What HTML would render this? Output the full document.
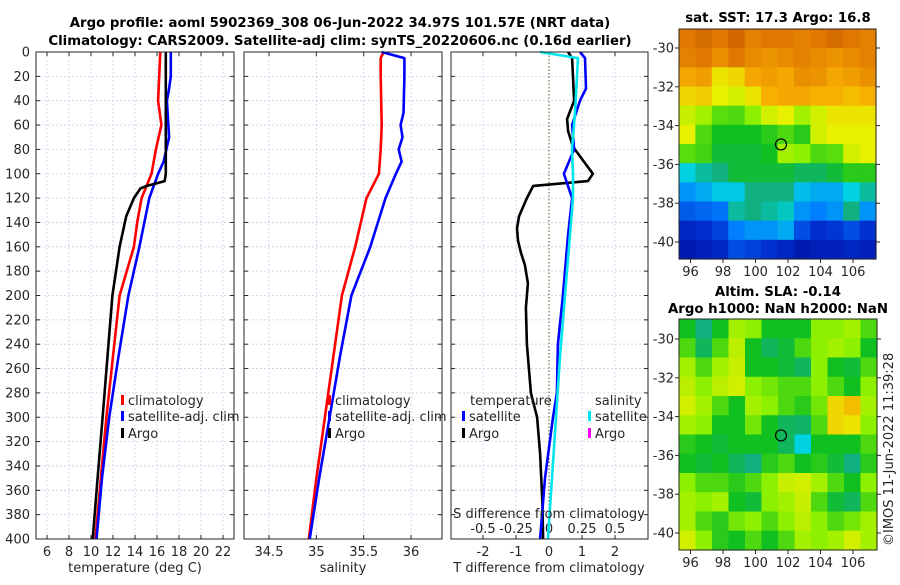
<!DOCTYPE html>
<html><head><meta charset="utf-8">
<style>
html,body{margin:0;padding:0;background:#fff;}
svg text{font-family:"DejaVu Sans","Liberation Sans",sans-serif;fill:#262626;}
.t{font-weight:bold;font-size:13.3px;fill:#000;}
.tk{font-size:13px;}
</style></head>
<body>
<svg id="fig" width="900" height="580" viewBox="0 0 900 580" xmlns="http://www.w3.org/2000/svg">
<text class="t" x="340" y="27" text-anchor="middle">Argo profile: aoml 5902369_308 06-Jun-2022 34.97S 101.57E (NRT data)</text>
<text class="t" x="340" y="45" text-anchor="middle">Climatology: CARS2009. Satellite-adj clim: synTS_20220606.nc (0.16d earlier)</text>
<g id="g"></g>
<text class="t" x="778" y="22" text-anchor="middle">sat. SST: 17.3 Argo: 16.8</text>
<text class="t" x="778" y="296" text-anchor="middle">Altim. SLA: -0.14</text>
<text class="t" x="778" y="313" text-anchor="middle">Argo h1000: NaN h2000: NaN</text>
<text class="tk" transform="translate(893,546) rotate(-90)">©IMOS 11-Jun-2022 11:39:28</text>
</svg>
<script>
// ---- data ----
const depthTicks=[0,20,40,60,80,100,120,140,160,180,200,220,240,260,280,300,320,340,360,380,400];
const tempTicks=[6,8,10,12,14,16,18,20,22];
const salTicks=[34.5,35,35.5,36];
const salTickLabels=["34.5","35","35.5","36"];
const diffTTicks=[-2,-1,0,1,2];
const diffSTicks=[-0.5,-0.25,0,0.25,0.5];
const diffSLabels=["-0.5","-0.25","0","0.25","0.5"];

const depClimT=[0,20,40,60,80,100,120,140,160,200,250,300,350,400];
const tempClim=[16.3,16.2,16.1,16.4,15.9,15.5,14.6,14.2,13.9,12.6,12.0,11.4,10.9,10.4];
const depSatT=[0,20,30,40,70,90,100,120,160,200,250,300,350,400];
const tempSat=[17.25,17.25,17.1,16.9,17.1,16.6,16.1,15.3,14.4,13.4,12.5,11.65,11.0,10.5];
const depArgoT=[0,100,106,110,112,120,135,160,200,250,300,350,400];
const tempArgo=[16.8,16.8,16.7,15.1,14.5,13.9,13.2,12.6,11.95,11.5,11.05,10.6,10.15];

const depClimS=[0,5,20,60,80,100,120,160,200,250,300,350,400];
const salClim=[35.71,35.68,35.68,35.69,35.68,35.66,35.53,35.41,35.27,35.18,35.09,35.0,34.92];
const depSatS=[0,5,20,50,60,70,80,90,100,120,160,200,250,300,350,400];
const salSat=[35.69,35.93,35.93,35.92,35.89,35.91,35.87,35.9,35.84,35.73,35.57,35.37,35.25,35.14,35.03,34.93];

const depDiffArgoT=[0,5,40,55,65,78,100,106,110,120,135,145,155,165,175,190,210,240,280,300,330,370,400];
const diffArgoT=[0.58,0.7,0.76,0.55,0.58,0.73,1.33,1.18,-0.48,-0.67,-0.91,-0.97,-0.94,-0.85,-0.73,-0.64,-0.7,-0.67,-0.55,-0.36,-0.27,-0.2,-0.18];
const depDiffSatT=[0,5,30,40,60,80,100,120,150,200,240,280,300,350,400];
const diffSatT=[0.94,1.09,1.12,0.94,0.7,0.76,0.45,0.7,0.58,0.42,0.27,0.24,0.12,-0.12,-0.27];
const depDiffSatS=[0,5,50,80,100,120,150,200,250,300,350,400];
const diffSatS=[-0.068,0.22,0.197,0.174,0.182,0.182,0.159,0.121,0.083,0.053,0.023,-0.008];

const lonTicks=[96,98,100,102,104,106];
const latTicks=[-30,-32,-34,-36,-38,-40];
const argoLon=101.57, argoLat=-34.97;
const sstRows=[
[0.9,0.92,0.9,0.93,0.88,0.9,0.9,0.88,0.9,0.92,0.9,0.88],
[0.88,0.9,0.85,0.9,0.86,0.84,0.86,0.88,0.86,0.84,0.86,0.88],
[0.8,0.82,0.7,0.72,0.8,0.82,0.8,0.85,0.84,0.8,0.82,0.85],
[0.72,0.74,0.68,0.66,0.7,0.78,0.8,0.8,0.78,0.78,0.76,0.78],
[0.65,0.62,0.56,0.55,0.6,0.66,0.68,0.62,0.66,0.7,0.7,0.7],
[0.68,0.55,0.5,0.5,0.5,0.52,0.55,0.52,0.66,0.68,0.68,0.68],
[0.56,0.54,0.48,0.48,0.48,0.5,0.62,0.6,0.55,0.56,0.66,0.68],
[0.36,0.4,0.42,0.48,0.48,0.48,0.48,0.45,0.45,0.48,0.52,0.52],
[0.3,0.32,0.35,0.35,0.42,0.42,0.42,0.34,0.32,0.32,0.36,0.4],
[0.22,0.24,0.26,0.4,0.42,0.4,0.38,0.3,0.28,0.3,0.42,0.3],
[0.12,0.14,0.18,0.28,0.3,0.3,0.32,0.2,0.14,0.16,0.2,0.15],
[0.08,0.1,0.12,0.2,0.18,0.15,0.12,0.08,0.1,0.1,0.12,0.1]];
const slaRows=[
[0.5,0.42,0.5,0.62,0.6,0.5,0.5,0.5,0.6,0.6,0.62,0.55],
[0.55,0.45,0.55,0.64,0.5,0.45,0.48,0.55,0.6,0.62,0.6,0.5],
[0.62,0.55,0.62,0.65,0.5,0.5,0.48,0.45,0.6,0.5,0.48,0.55],
[0.64,0.6,0.64,0.66,0.6,0.58,0.55,0.55,0.6,0.55,0.5,0.6],
[0.66,0.62,0.55,0.5,0.62,0.6,0.55,0.52,0.58,0.72,0.76,0.62],
[0.62,0.6,0.5,0.5,0.58,0.5,0.45,0.44,0.55,0.72,0.7,0.6],
[0.52,0.5,0.48,0.5,0.5,0.5,0.45,0.36,0.5,0.5,0.5,0.55],
[0.5,0.48,0.5,0.45,0.42,0.52,0.55,0.5,0.52,0.48,0.42,0.52],
[0.6,0.55,0.55,0.52,0.55,0.6,0.65,0.66,0.62,0.55,0.5,0.6],
[0.62,0.6,0.62,0.5,0.48,0.6,0.62,0.65,0.55,0.48,0.45,0.55],
[0.62,0.55,0.52,0.58,0.6,0.55,0.6,0.64,0.6,0.55,0.58,0.62],
[0.66,0.6,0.52,0.5,0.55,0.5,0.55,0.62,0.6,0.62,0.66,0.62]];

// ---- drawing ----
const NS="http://www.w3.org/2000/svg";
const G=document.getElementById('g');
function mk(tag,attrs,parent){const e=document.createElementNS(NS,tag);for(const k in attrs)e.setAttribute(k,attrs[k]);(parent||G).appendChild(e);return e;}
const yTop=52,yBot=539;
const yD=d=>yTop+d*(yBot-yTop)/400;
const xT=t=>36+(t-5)*11;
const xS=s=>244+(s-34.236)*94.7;
const xDT=t=>549+t*33;
const xDS=s=>549+s*132;
const panels=[[36,234],[244,442],[451,648]];

panels.forEach((p,i)=>{
  depthTicks.forEach(d=>{ if(d>0&&d<400){
    const l=mk('line',{x1:p[0],x2:p[1],y1:yD(d),y2:yD(d),stroke:'#c9cde6','stroke-width':0.8,'stroke-dasharray':'2,2'});
    
    
  }
  mk('line',{x1:p[0],x2:p[0]+4,y1:yD(d),y2:yD(d),stroke:'#262626'});
  mk('line',{x1:p[1]-4,x2:p[1],y1:yD(d),y2:yD(d),stroke:'#262626'});
  });
});
function vgrid(x,p,lbl,ly){
  const l=mk('line',{x1:x,x2:x,y1:yTop,y2:yBot,stroke:'#c9cde6','stroke-width':0.8,'stroke-dasharray':'2,2'});
  
  
  mk('line',{x1:x,x2:x,y1:yBot-4,y2:yBot,stroke:'#262626'});
  mk('line',{x1:x,x2:x,y1:yTop,y2:yTop+4,stroke:'#262626'});
  if(lbl!==null){const t=mk('text',{x:x,y:ly,'text-anchor':'middle',class:'tk'});t.textContent=lbl;
    
    }
}
tempTicks.forEach(v=>vgrid(xT(v),0,String(v),556));
salTicks.forEach((v,i)=>vgrid(xS(v),1,salTickLabels[i],556));
diffTTicks.forEach(v=>{ if(v!==0) vgrid(xDT(v),2,String(v),556); else {
  const t=mk('text',{x:xDT(v),y:556,'text-anchor':'middle',class:'tk'});t.textContent='0';
  
  
  const z=mk('line',{x1:xDT(0),x2:xDT(0),y1:yTop,y2:yBot,stroke:'#4a5a20','stroke-width':1,'stroke-dasharray':'1.5,2'});
  
  }});
diffSTicks.forEach((v,i)=>{const t=mk('text',{x:xDS(v),y:533,'text-anchor':'middle',class:'tk'});t.textContent=diffSLabels[i];
  
  });
depthTicks.forEach(d=>{const t=mk('text',{x:30,y:yD(d)+4.5,'text-anchor':'end',class:'tk'});t.textContent=String(d);
  
  });

function line(xs,ds,fx,color,name){
  const pts=xs.map((v,i)=>fx(v).toFixed(1)+','+yD(ds[i]).toFixed(1)).join(' ');
  const l=mk('polyline',{points:pts,fill:'none',stroke:color,'stroke-width':2.6,'stroke-linejoin':'round'});
  
  
}
line(tempClim,depClimT,xT,'#ff0000','temp-climatology-line');
line(tempSat,depSatT,xT,'#0000ff','temp-satellite-line');
line(tempArgo,depArgoT,xT,'#000000','temp-argo-line');
line(salClim,depClimS,xS,'#ff0000','sal-climatology-line');
line(salSat,depSatS,xS,'#0000ff','sal-satellite-line');
line(diffArgoT,depDiffArgoT,xDT,'#000000','tdiff-argo-line');
line(diffSatT,depDiffSatT,xDT,'#0000ff','tdiff-satellite-line');
line(diffSatS,depDiffSatS,xDS,'#00e5ee','sdiff-satellite-line');

panels.forEach(p=>{const r=mk('rect',{x:p[0],y:yTop,width:p[1]-p[0],height:yBot-yTop,fill:'none',stroke:'#262626','stroke-width':1});
  
  });

function txt(x,y,s,name,anchor){const t=mk('text',{x:x,y:y,class:'tk','text-anchor':anchor||'start'});t.textContent=s;
  
  return t;}
function leg(x,y,color,label){const r=mk('rect',{x:x,y:y-10,width:3,height:10,fill:color});
  
  
  txt(x+7,y,label,'legend-entry');}
[[121],[328]].forEach(a=>{leg(a[0],405,'#ff0000','climatology');leg(a[0],421,'#0000ff','satellite-adj. clim');leg(a[0],438,'#000000','Argo');});
txt(470,405,'temperature','legend-header-temperature');
leg(462,421,'#0000ff','satellite');leg(462,438,'#000000','Argo');
txt(595,405,'salinity','legend-header-salinity');
leg(588,421,'#00e5ee','satellite');leg(588,438,'#ff00ff','Argo');
txt(549,518,'S difference from climatology','s-diff-axis-title','middle');
txt(135,572,'temperature (deg C)','x-axis-title-temperature','middle');
txt(343,572,'salinity','x-axis-title-salinity','middle');
txt(549,572,'T difference from climatology','x-axis-title-tdiff','middle');

// ---- maps ----
const cmap=[[0,[0,0,140]],[0.15,[0,48,208]],[0.28,[0,128,255]],[0.36,[0,210,225]],[0.42,[16,176,128]],[0.5,[16,192,32]],[0.6,[140,240,0]],[0.68,[232,240,0]],[0.78,[248,176,0]],[0.9,[224,120,0]],[1,[176,64,0]]];
function col(v){for(let i=1;i<cmap.length;i++){if(v<=cmap[i][0]){const a=cmap[i-1],b=cmap[i],f=(v-a[0])/(b[0]-a[0]);return 'rgb('+a[1].map((c,k)=>Math.round(c+(b[1][k]-c)*f)).join(',')+')';}}return 'rgb(176,64,0)';}
function drawMap(rows,L,R,T,B,lat0,latPx,name,lblY){
  const lon0=96,lonPx=16.25;
  const xL=lon=>690.5+(lon-lon0)*lonPx;
  const yL=lat=>lat0+(-30-lat)*latPx;
  const nr=rows.length,nc=rows[0].length;
  const cw=(R-L)/nc,ch=(B-T)/nr;
  rows.forEach((row,j)=>row.forEach((v,i)=>{
    const r=mk('rect',{x:(L+i*cw).toFixed(2),y:(T+j*ch).toFixed(2),width:(cw+0.6).toFixed(2),height:(ch+0.6).toFixed(2),fill:col(v)});
    
    
  }));
  const f=mk('rect',{x:L,y:T,width:R-L,height:B-T,fill:'none',stroke:'#262626','stroke-width':1});
  
  
  lonTicks.forEach(lo=>{const x=xL(lo);mk('line',{x1:x,x2:x,y1:B,y2:B+4,stroke:'#262626'});
    txt(x,lblY,String(lo),name+'-lon-label','middle');});
  latTicks.forEach(la=>{const y=yL(la);mk('line',{x1:L-4,x2:L,y1:y,y2:y,stroke:'#262626'});mk('line',{x1:R,x2:R+4,y1:y,y2:y,stroke:'#262626'});
    txt(L-5,y+4.5,String(la),name+'-lat-label','end');});
  const c=mk('circle',{cx:xL(argoLon),cy:yL(argoLat),r:5.5,fill:'none',stroke:'#000','stroke-width':1.2});
  
  
}
drawMap(sstRows,679,876,29,259,48,19.4,'sst-map',276);
drawMap(slaRows,679,877,319,550,339,19.4,'sla-map',567);
</script>
</body></html>
